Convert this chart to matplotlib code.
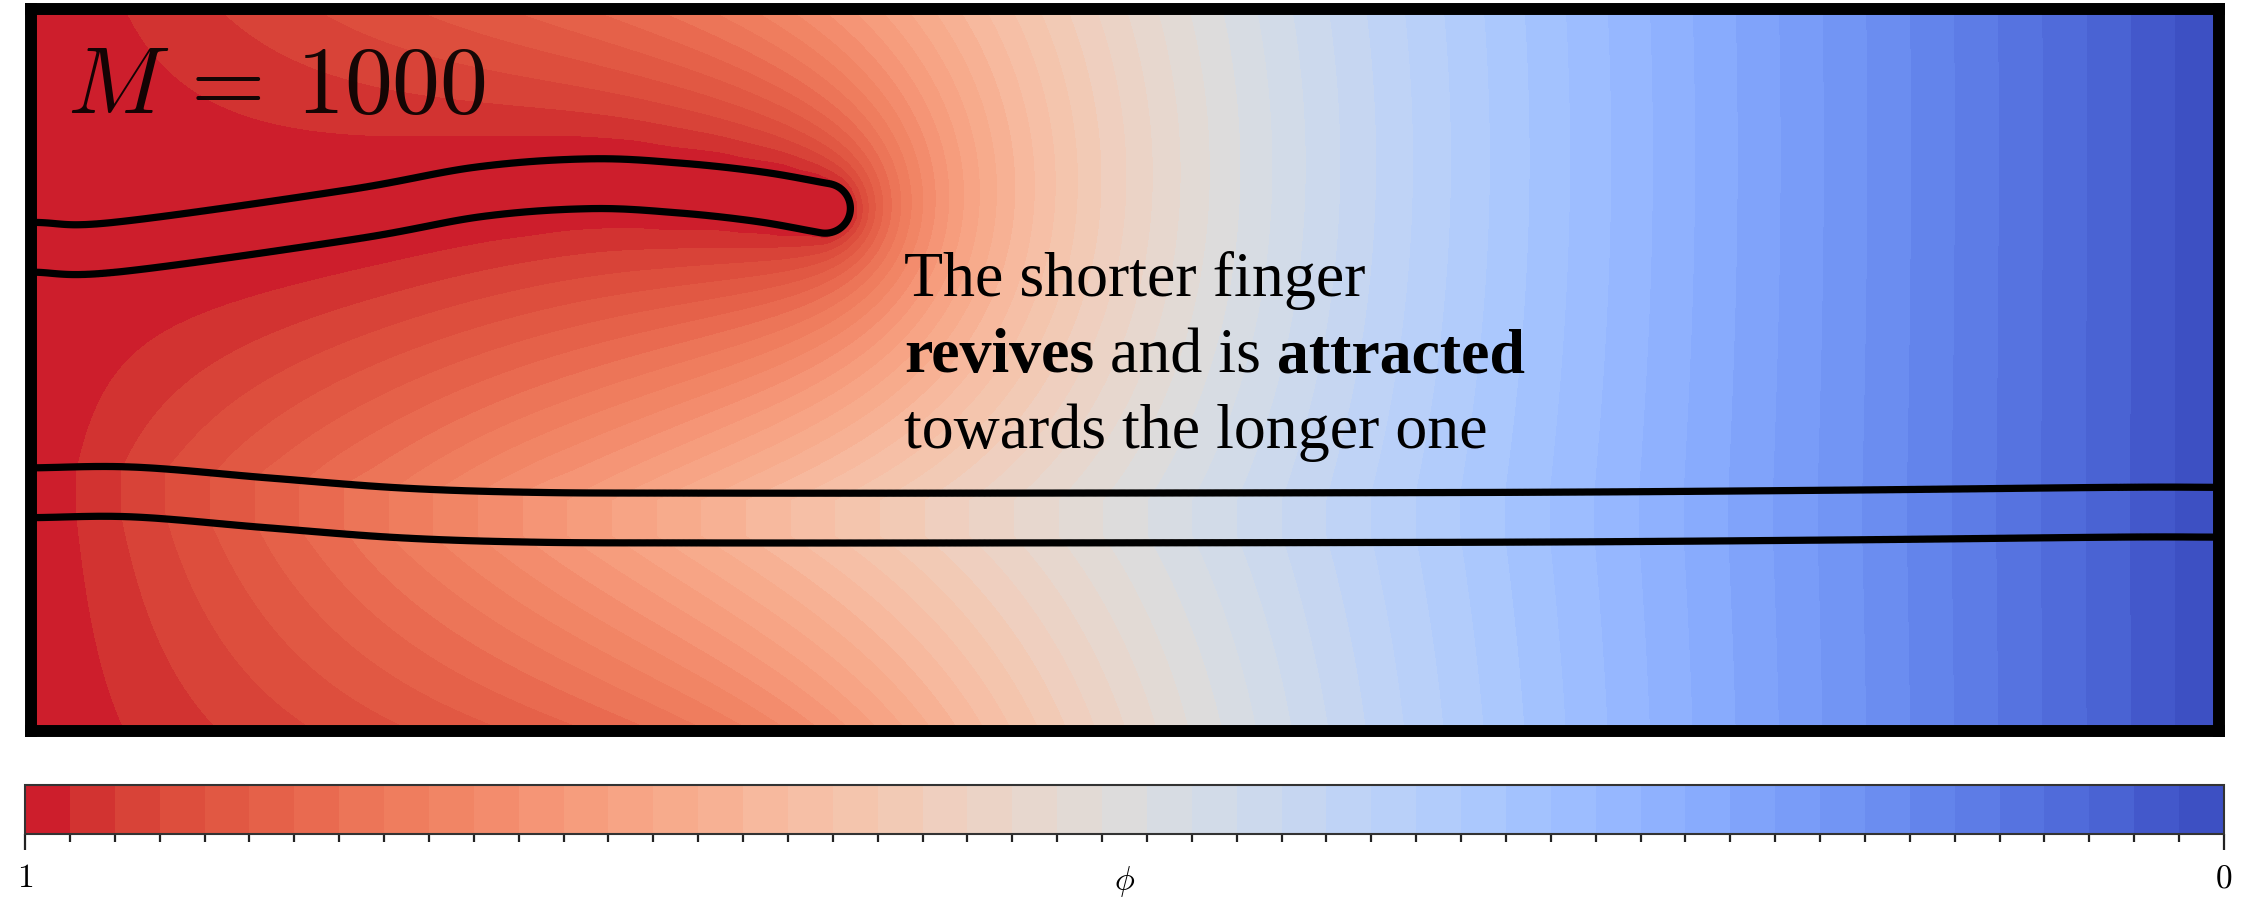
import numpy as np
import matplotlib
matplotlib.use("Agg")
import matplotlib.pyplot as plt
from matplotlib.ticker import FixedLocator
from matplotlib.colors import ListedColormap

plt.rcParams['mathtext.fontset'] = 'cm'

# ---- problem set-up -------------------------------------------------------
domain_length = 3.0          # channel length (channel width = 1)
domain_height = 1.0
mobility_ratio = 1000        # M
n_levels = 50                # number of colour levels for phi

# finger centre lines (x, y) and their half-width
upper_finger_x = [0.0, 0.115, 0.437, 0.616, 0.768, 0.890, 0.999, 1.089]
upper_finger_y = [0.670, 0.670, 0.715, 0.747, 0.758, 0.752, 0.740, 0.724]
lower_finger_x = [0.0, 0.141, 0.325, 0.509, 0.692, 0.917, 1.329, 2.014, 2.469, 2.860, 3.0]
lower_finger_y = [0.330, 0.331, 0.316, 0.302, 0.296, 0.295, 0.295, 0.296, 0.299, 0.303, 0.303]
finger_half_width = 0.0345

annotation_lines = [
    [("The shorter finger", "normal")],
    [("revives", "bold"), (" and is ", "normal"), ("attracted", "bold")],
    [("towards the longer one", "normal")],
]
colorbar_labels = ["$1$", "$0$"]


def catmull_rom(xs, ys, spacing=0.003):
    p = np.column_stack([xs, ys]).astype(float)
    p = np.vstack([2 * p[0] - p[1], p, 2 * p[-1] - p[-2]])
    out = []
    for i in range(1, len(p) - 2):
        p0, p1, p2, p3 = p[i - 1], p[i], p[i + 1], p[i + 2]
        n = max(4, int(np.ceil(np.hypot(*(p2 - p1)) / spacing)))
        t = np.linspace(0, 1, n, endpoint=False)[:, None]
        seg = 0.5 * (2 * p1 + (-p0 + p2) * t
                     + (2 * p0 - 5 * p1 + 4 * p2 - p3) * t ** 2
                     + (-p0 + 3 * p1 - 3 * p2 + p3) * t ** 3)
        out.append(seg)
    out.append(p[-2][None, :])
    return np.vstack(out)


def distance_to_curve(X, Y, curve):
    d2 = np.full(X.shape, np.inf)
    tmp = np.empty(X.shape)
    for cx, cy in curve:
        np.subtract(X, cx, out=tmp)
        np.square(tmp, out=tmp)
        tmp += (Y - cy) ** 2
        np.minimum(d2, tmp, out=d2)
    return np.sqrt(d2)


# fine grid for the interfaces
h_fine = 0.0025
xf = np.linspace(0, domain_length, int(round(domain_length / h_fine)) + 1)
yf = np.linspace(0, domain_height, int(round(domain_height / h_fine)) + 1)
XF, YF = np.meshgrid(xf, yf)

upper_curve = catmull_rom(upper_finger_x, upper_finger_y)
lower_curve = catmull_rom(lower_finger_x, lower_finger_y)
d_upper = distance_to_curve(XF, YF, upper_curve)
d_lower = distance_to_curve(XF, YF, lower_curve)
interface = finger_half_width - np.minimum(d_upper, d_lower)

# ---- pressure-like field phi: Laplace solve, periodic across the channel ---
step = 4
Xs = XF[:-1:step, ::step]
Ys = YF[:-1:step, ::step]
up_mask = d_upper[:-1:step, ::step] <= finger_half_width
lo_mask = d_lower[:-1:step, ::step] <= finger_half_width

phi = 1.0 - Xs / domain_length
fixed = np.zeros(phi.shape, bool)
val = np.zeros(phi.shape)
fixed[:, 0] = True
val[:, 0] = 1.0
fixed[:, -1] = True
val[:, -1] = 0.0
fixed[lo_mask] = True
val[lo_mask] = 1.0 - Xs[lo_mask] / domain_length
fixed[up_mask] = True
val[up_mask] = 1.0
phi[fixed] = val[fixed]

ii, jj = np.indices(phi.shape)
red = ((ii + jj) % 2 == 0) & ~fixed
black = ((ii + jj) % 2 == 1) & ~fixed
omega = 1.93
for _ in range(1500):
    for m in (red, black):
        nb = 0.25 * (np.roll(phi, 1, 0) + np.roll(phi, -1, 0)
                     + np.roll(phi, 1, 1) + np.roll(phi, -1, 1))
        phi = np.where(m, phi + omega * (nb - phi), phi)

# close the periodic direction for plotting
Xp = np.vstack([Xs, Xs[:1]])
Yp = np.vstack([Ys, np.full_like(Ys[:1], domain_height)])
phip = np.clip(np.vstack([phi, phi[:1]]), 0.0, 1.0)

# cool-warm map with a brighter crimson at the warm end
t = np.linspace(0, 1, 256)
base = plt.get_cmap('coolwarm')(t)[:, :3]
warm_end = np.array([203, 22, 42]) / 255.0
blend = np.clip((t - 0.7) / 0.3, 0, 1)[:, None] ** 1.5
rgb = base + blend * (warm_end - base[-1])
cmap = ListedColormap(np.clip(rgb, 0, 1))

# ---- figure ---------------------------------------------------------------
W, H = 2244, 899
fig = plt.figure(figsize=(W / 100, H / 100), dpi=100)
ax = fig.add_axes([31 / W, 1 - 731 / H, (2219 - 31) / W, (731 - 9) / H])
cax = fig.add_axes([25 / W, 1 - 834 / H, (2224 - 25) / W, (834 - 785) / H])

levels = np.linspace(0, 1, n_levels)
cf = ax.contourf(Xp, Yp, phip, levels=levels, cmap=cmap)
ax.contour(XF, YF, interface, levels=[0.0], colors='black', linewidths=5.2)

ax.set_xlim(0, domain_length)
ax.set_ylim(0, domain_height)
ax.set_xticks([])
ax.set_yticks([])
for s in ax.spines.values():
    s.set_linewidth(8.6)
    s.set_color('black')

ax.text(0.050, 0.856, rf"$M\,=\,{mobility_ratio}$", fontsize=69,
        color='black', alpha=0.9, va='baseline', ha='left')

# annotation with bold words
ann_font = dict(fontsize=46, family='Liberation Serif', color='black')
baselines = [0.6025, 0.497, 0.392]
for line, yb in zip(annotation_lines, baselines):
    prev = None
    for txt, wt in line:
        if prev is None:
            prev = ax.text(1.197, yb, txt, weight=wt, va='baseline', ha='left', **ann_font)
        else:
            prev = ax.annotate(txt, xy=(1, 0), xycoords=prev, va='bottom', ha='left',
                               weight=wt, **ann_font)

# colour bar
cbar = fig.colorbar(cf, cax=cax, orientation='horizontal')
cax.invert_xaxis()
cbar.set_ticks([1, 0])
cbar.set_ticklabels(colorbar_labels)
cax.xaxis.set_minor_locator(FixedLocator(levels))
cax.tick_params(axis='x', which='major', length=11.5, width=1.6, color='#222222',
                labelsize=24, pad=8)
cax.tick_params(axis='x', which='minor', length=5.8, width=1.6, color='#222222')
cbar.outline.set_linewidth(1.5)
cbar.outline.set_edgecolor('#333333')
cax.set_xlabel(r"$\phi$", fontsize=24)
cax.xaxis.label.set_va('center')
cax.xaxis.set_label_coords(0.5, -0.96)

fig.savefig('out.png', dpi=100, facecolor='white')
